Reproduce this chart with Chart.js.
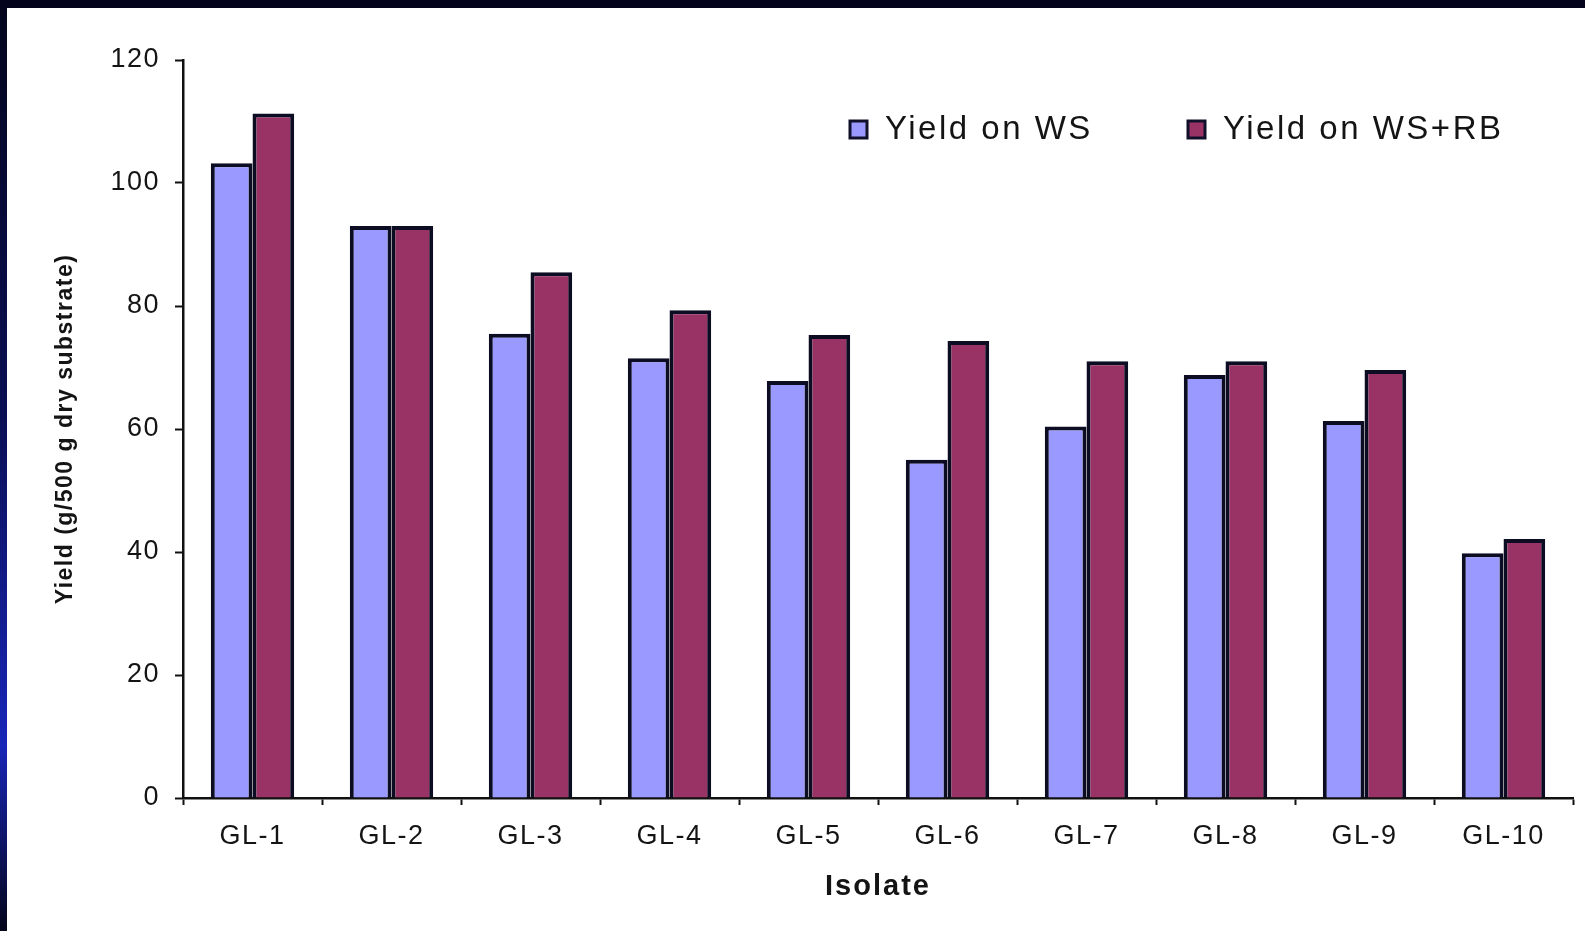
<!DOCTYPE html>
<html>
<head>
<meta charset="utf-8">
<title>Yield of isolates</title>
<script src="https://cdn.jsdelivr.net/npm/chart.js@4.4.1/dist/chart.umd.min.js"></script>
<style>
    html, body { margin: 0; padding: 0; }
    body {
        width: 1585px; height: 931px; overflow: hidden; position: relative;
        background: linear-gradient(to bottom, #04051c 0%, #0a0f55 45%, #1826b8 80%, #04051a 100%);
    }
    .sheet { position: absolute; left: 7px; top: 8px; right: 0; bottom: 0; background: #fff; }
    .chart-box { position: absolute; left: 0; top: 0; width: 1585px; height: 931px; }
</style>
</head>
<body>
<div class="sheet"></div>
<div class="chart-box"><canvas id="yieldChart"></canvas></div>
<script>
var isolates = ['GL-1', 'GL-2', 'GL-3', 'GL-4', 'GL-5', 'GL-6', 'GL-7', 'GL-8', 'GL-9', 'GL-10'];
var yieldWS = [103.2, 93, 75.5, 71.5, 67.8, 55, 60.4, 68.8, 61.3, 39.8];
var yieldWSRB = [111.3, 93, 85.5, 79.3, 75.3, 74.3, 71, 71, 69.6, 42.1];
var yTicks = [0, 20, 40, 60, 80, 100, 120];

Chart.defaults.font.family = '"Liberation Sans", Arial, sans-serif';
Chart.defaults.color = '#141414';

// text in the picture is stretched wide, so space the letters out a bit
var titleSpacing = { x: '2px', y: '1.5px' };
var spacedText = {
    id: 'spacedText',
    beforeDraw: function (chart) {
        chart.ctx.letterSpacing = '1.5px';
    },
    afterLayout: function (chart) {
        Object.keys(chart.scales).forEach(function (id) {
            var scale = chart.scales[id];
            if (scale._spaced) return;
            var drawTitle = scale.drawTitle;
            scale.drawTitle = function () {
                var ctx = this.ctx;
                var prev = ctx.letterSpacing;
                ctx.letterSpacing = titleSpacing[id] || '0px';
                drawTitle.apply(this, arguments);
                ctx.letterSpacing = prev;
            };
            scale._spaced = true;
        });
    }
};

// legend sits inside the plot, top right
var legendInside = {
    id: 'legendInside',
    afterDraw: function (chart) {
        var ctx = chart.ctx;
        var boxX = [850, 1188];
        ctx.save();
        ctx.font = '33px "Liberation Sans", Arial, sans-serif';
        ctx.letterSpacing = '2.5px';
        ctx.textBaseline = 'middle';
        chart.data.datasets.forEach(function (ds, i) {
            ctx.fillStyle = ds.backgroundColor;
            ctx.fillRect(boxX[i], 121, 17, 17);
            ctx.lineWidth = 3;
            ctx.strokeStyle = '#10102a';
            ctx.strokeRect(boxX[i], 121, 17, 17);
            ctx.fillStyle = '#141414';
            ctx.fillText(ds.label, boxX[i] + 35, 130);
        });
        ctx.restore();
    }
};

var ctx = document.getElementById('yieldChart');
new Chart(ctx, {
    type: 'bar',
    data: {
        labels: isolates,
        datasets: [{
            label: 'Yield on WS',
            data: yieldWS,
            backgroundColor: '#9999ff',
            borderColor: '#0c0c22',
            borderWidth: 4
        }, {
            label: 'Yield on WS+RB',
            data: yieldWSRB,
            backgroundColor: '#993366',
            borderColor: '#0c0c22',
            borderWidth: 4
        }]
    },
    options: {
        responsive: true,
        maintainAspectRatio: false,
        devicePixelRatio: 1,
        animation: false,
        layout: { padding: { left: 0, top: 60, right: 12, bottom: 0 } },
        plugins: {
            legend: { display: false },
            tooltip: { enabled: false }
        },
        datasets: {
            bar: { categoryPercentage: 0.6, barPercentage: 1 }
        },
        scales: {
            x: {
                grid: { display: true, drawOnChartArea: false, offset: true, tickLength: 7, tickWidth: 2, color: '#111' },
                border: { display: true, color: '#111', width: 2.5 },
                ticks: { font: { size: 27 }, padding: 15 },
                title: { display: true, text: 'Isolate', font: { size: 29, weight: 'bold' }, padding: { top: 0, bottom: 27 } },
                afterFit: function (scale) { scale.height = 133; }
            },
            y: {
                min: 0,
                max: 120,
                afterBuildTicks: function (scale) {
                    scale.ticks = yTicks.map(function (v) { return { value: v }; });
                },
                grid: { display: true, drawOnChartArea: false, tickLength: 8, tickWidth: 2, color: '#111' },
                border: { display: true, color: '#111', width: 2.5 },
                ticks: { font: { size: 27 }, padding: 15 },
                title: { display: true, text: 'Yield (g/500 g dry substrate)', font: { size: 23, weight: 'bold' }, padding: { top: 52, bottom: 0 } },
                afterFit: function (scale) { scale.width = 183; }
            }
        }
    },
    plugins: [spacedText, legendInside]
});
</script>
</body>
</html>
